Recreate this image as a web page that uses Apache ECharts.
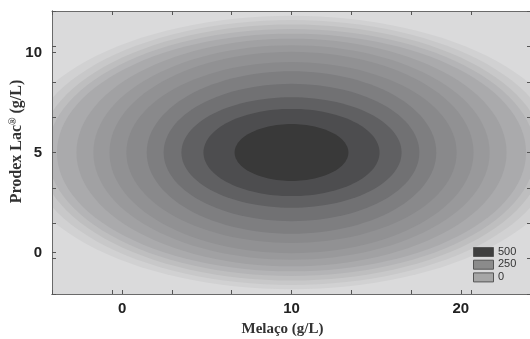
<!DOCTYPE html>
<html>
<head>
<meta charset="utf-8">
<script src="https://cdn.jsdelivr.net/npm/echarts@6/dist/echarts.min.js"></script>
<style>
  html, body { margin: 0; padding: 0; background: #fff; }
  #chart { width: 530px; height: 339px; }
</style>
</head>
<body>
<div id="chart"></div>
<script>
  // ── Data ──
  var optimum = [10, 5];                       // centre of the contours (Melaço, Prodex Lac)
  var levels = [0, 50, 100, 150, 200, 250, 300, 350, 400, 450, 500, 550, 600, 650];
  // half width (g/L Melaço) and half height (g/L Prodex Lac) of each contour line
  var ringHalfWidth = [16.3, 15.5, 14.9, 14.4, 13.85, 12.7, 11.7, 10.75, 9.75, 8.55, 7.55, 6.5, 5.2, 3.36];
  var ringHalfHeight = [6.83, 6.62, 6.4, 6.17, 5.94, 5.69, 5.36, 5.03, 4.52, 4.06, 3.43, 2.76, 2.18, 1.42];
  // fill below the first level, then inside each level
  var bandColors = ["#dadadb", "#d1d1d2", "#c8c8c9", "#bebebf", "#b4b4b6", "#aaaaac", "#a1a1a3",
                    "#99999b", "#919193", "#89898b", "#7e7e80", "#717173", "#606062", "#4d4d4f", "#393939"];
  var xTicks = [0, 10, 20];
  var yTicks = [0, 5, 10];
  var codedRange = [-4, 4];                    // coded design units shown by the minor ticks
  var xStep = 5 / Math.SQRT2;                  // one coded unit in g/L
  var yStep = 2.5 / Math.SQRT2;
  var legendLabels = ["500", "250", "0"];
  var legendColors = ["#3f3f3f", "#8b8b8b", "#a6a6a6"];

  var chart = echarts.init(document.getElementById("chart"), null, { renderer: "canvas" });

  var ringData = [];
  for (var i = 0; i < levels.length; i++) {
    ringData.push([optimum[0], optimum[1], ringHalfWidth[i], ringHalfHeight[i], i + 1]);
  }

  function renderRing(params, api) {
    var c = api.coord([api.value(0), api.value(1)]);
    var s = api.size([api.value(2), api.value(3)]);
    var pts = [];
    for (var k = 0; k < 120; k++) {
      var a = (k / 120) * Math.PI * 2;
      pts.push([c[0] + s[0] * Math.cos(a), c[1] + s[1] * Math.sin(a)]);
    }
    return {
      type: "polygon",
      shape: { points: pts },
      style: { fill: bandColors[api.value(4)], stroke: null }
    };
  }

  var tickFont = { fontFamily: "Liberation Sans", fontWeight: "bold", fontSize: 15, color: "#222" };
  var nameFont = { fontFamily: "Liberation Serif", fontWeight: "bold", fontSize: 15, color: "#333" };
  var lineStyle = { color: "#6a6a6a", width: 1 };
  var tickStyle = { color: "#555", width: 1 };

  var codedX = [optimum[0] + codedRange[0] * xStep, optimum[0] + codedRange[1] * xStep];
  var codedY = [optimum[1] + codedRange[0] * yStep, optimum[1] + codedRange[1] * yStep];

  function codedAxis(pos) {
    return {
      type: "value",
      position: pos,
      z: 10,
      min: codedRange[0],
      max: codedRange[1],
      interval: 1,
      axisLine: { show: true, onZero: false, lineStyle: lineStyle },
      axisTick: { show: true, inside: true, length: 4, lineStyle: tickStyle },
      axisLabel: { show: false },
      splitLine: { show: false }
    };
  }

  var legendGraphics = [];
  for (var j = 0; j < legendLabels.length; j++) {
    legendGraphics.push({
      type: "rect",
      z: 100,
      shape: { x: 473.5, y: 247.5 + j * 12.7, width: 20, height: 9 },
      style: { fill: legendColors[j], stroke: "#555", lineWidth: 1 }
    });
    legendGraphics.push({
      type: "text",
      z: 100,
      x: 498,
      y: 246 + j * 12.7,
      style: { text: legendLabels[j], fontFamily: "Liberation Sans", fontSize: 11, fill: "#333" }
    });
  }

  var option = {
    animation: false,
    backgroundColor: "#fff",
    grid: {
      left: 52,
      top: 11,
      width: 479,
      height: 283,
      outerBoundsMode: "none",
      containLabel: false,
      show: true,
      backgroundColor: bandColors[0],
      borderWidth: 0
    },
    xAxis: [
      {
        type: "value",
        position: "bottom",
        z: 10,
        min: codedX[0],
        max: codedX[1],
        name: "Melaço (g/L)",
        nameLocation: "middle",
        nameGap: 28,
        nameMoveOverlap: false,
        nameTextStyle: Object.assign({ padding: [0, 18, 0, 0] }, nameFont),
        axisLine: { show: true, onZero: false, lineStyle: lineStyle },
        axisTick: { show: true, inside: true, length: 4, lineStyle: tickStyle, customValues: xTicks },
        axisLabel: Object.assign({ margin: 7, customValues: xTicks }, tickFont),
        splitLine: { show: false }
      },
      codedAxis("top"),
      codedAxis("bottom")
    ],
    yAxis: [
      {
        type: "value",
        position: "left",
        z: 10,
        min: codedY[0],
        max: codedY[1],
        name: "Prodex Lac{sup|®} (g/L)",
        nameLocation: "middle",
        nameGap: 27,
        nameMoveOverlap: false,
        nameTextStyle: Object.assign({
          padding: [0, 0, 0, 22],
          rich: {
            sup: { fontFamily: "Liberation Serif", fontWeight: "bold", fontSize: 10, color: "#333", verticalAlign: "top", padding: [0, 0, 7, 0] }
          }
        }, nameFont, { fontSize: 16 }),
        axisLine: { show: true, onZero: false, lineStyle: lineStyle },
        axisTick: { show: true, inside: true, length: 4, lineStyle: tickStyle, customValues: yTicks },
        axisLabel: Object.assign({ margin: 10, customValues: yTicks }, tickFont),
        splitLine: { show: false }
      },
      codedAxis("left"),
      codedAxis("right")
    ],
    graphic: legendGraphics,
    series: [
      {
        type: "custom",
        xAxisIndex: 0,
        yAxisIndex: 0,
        clip: true,
        silent: true,
        z: 1,
        renderItem: renderRing,
        data: ringData
      }
    ]
  };

  chart.setOption(option);
</script>
</body>
</html>
